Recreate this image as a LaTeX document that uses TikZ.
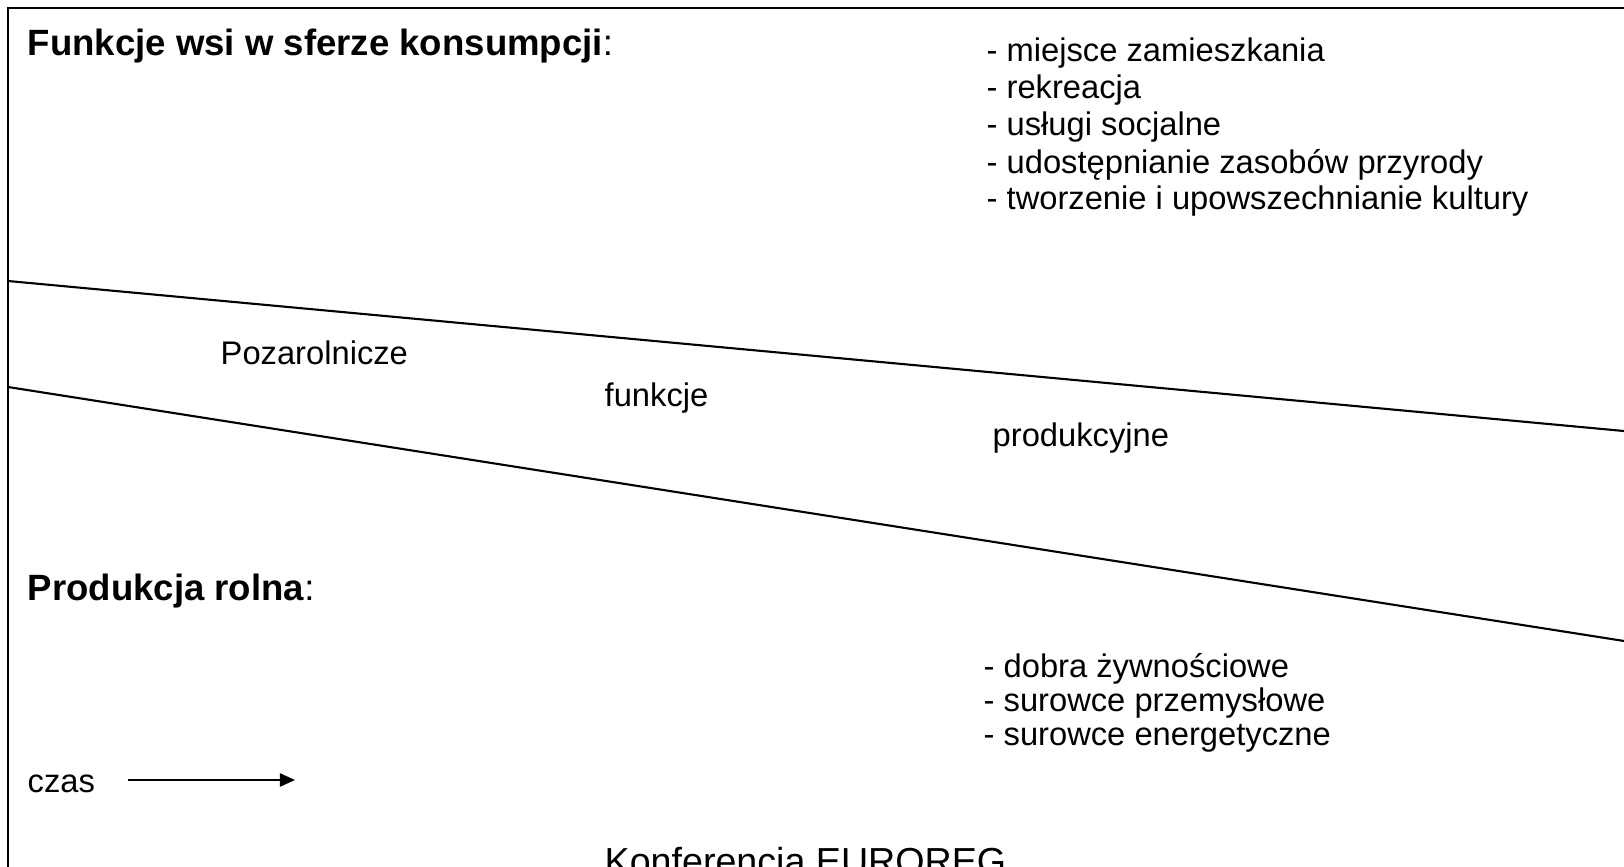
\documentclass[tikz,border=0pt]{standalone}
\usepackage{fontspec}
\setmainfont{Liberation Sans}
\usetikzlibrary{arrows.meta}

\begin{document}
\begin{tikzpicture}[x=0.01cm,y=-0.01cm,
    txt/.style={anchor=base west,inner sep=0pt,font=\fontsize{9.3pt}{9.4pt}\selectfont},
    head/.style={txt,font=\fontsize{10.4pt}{11pt}\selectfont},
    rule/.style={line width=0.6pt}]
    \useasboundingbox (0,0) rectangle (1624,867);
    \clip (0,0) rectangle (1624,867);
    \draw[rule] (8,8) rectangle (1700,950);

    \coordinate (a1) at (8,281);
    \coordinate (a2) at (1640,432.5);
    \coordinate (b1) at (8,387);
    \coordinate (b2) at (1640,643.5);
    \draw[rule] (a1) -- (a2) (b1) -- (b2);

    \node[head] (cons) at (27,56) {\textbf{Funkcje wsi w sferze konsumpcji}:};
    \foreach \t [count=\i] in {miejsce zamieszkania, rekreacja, usługi socjalne,
        udostępnianie zasobów przyrody, tworzenie i upowszechnianie kultury}
        \node[txt] (c\i) at (986,{62+37*(\i-1)}) {- \t};

    \node[txt] (poz) at (220,364) {Pozarolnicze};
    \node[txt] (fun) at (604,406) {funkcje};
    \node[txt] (prod) at (992,446) {produkcyjne};

    \node[head] (rol) at (27,600) {\textbf{Produkcja rolna}:};
    \foreach \t [count=\i] in {dobra żywnościowe, surowce przemysłowe, surowce energetyczne}
        \node[txt] (p\i) at (983,{677+34*(\i-1)}) {- \t};

    \node[txt] (czas) at (27,792) {czas};
    \coordinate (t0) at (128,780);
    \coordinate (t1) at (295,780);
    \draw[rule,-{Triangle[length=0.15cm,width=0.13cm]}] (t0) -- (t1);

    \node[txt,font=\fontsize{10.7pt}{12pt}\selectfont] (conf) at (604,874) {Konferencja EUROREG};
\end{tikzpicture}
\end{document}
